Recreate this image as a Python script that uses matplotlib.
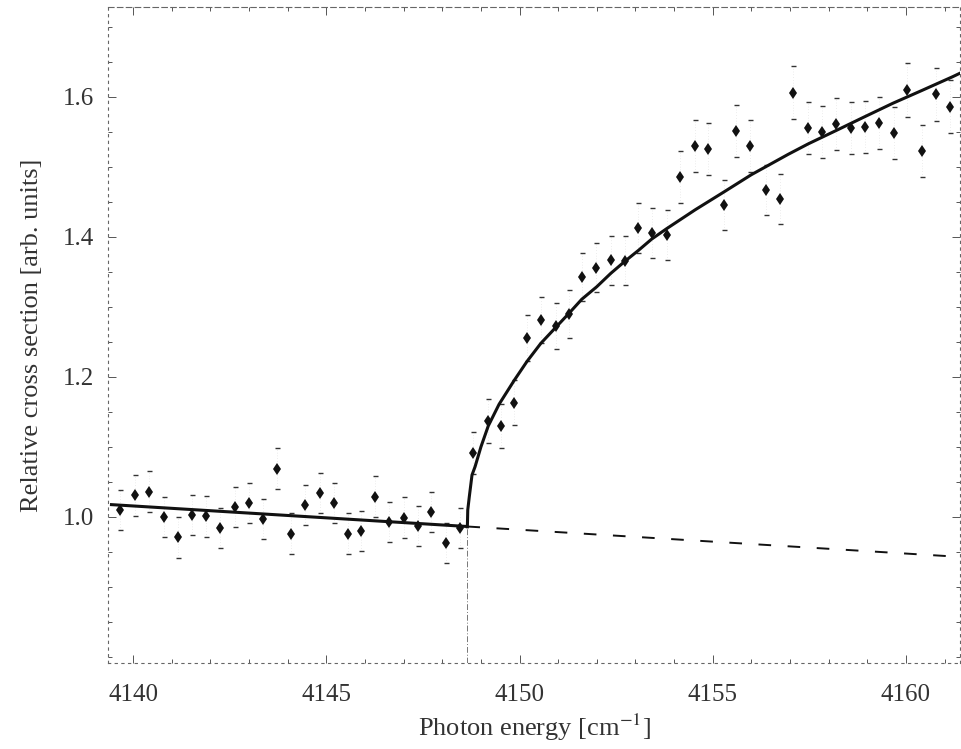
import numpy as np
import matplotlib
matplotlib.use("Agg")
import matplotlib.pyplot as plt
from matplotlib.ticker import MultipleLocator

energy = [4139.66, 4140.05, 4140.41, 4140.80, 4141.16, 4141.52, 4141.88, 4142.24,
          4142.63, 4142.99, 4143.35, 4143.72, 4144.08, 4144.46, 4144.83, 4145.19,
          4145.55, 4145.91, 4146.25, 4146.63, 4147.00, 4147.36, 4147.72, 4148.10,
          4148.46,
          4148.80, 4149.19, 4149.52, 4149.86, 4150.19, 4150.55, 4150.94, 4151.28,
          4151.61, 4151.97, 4152.36, 4152.72, 4153.06, 4153.42, 4153.81, 4154.14,
          4154.53, 4154.89, 4155.28, 4155.61, 4155.97, 4156.39, 4156.75, 4157.08,
          4157.47, 4157.83, 4158.19, 4158.58, 4158.94, 4159.30, 4159.69, 4160.02,
          4160.41, 4160.77, 4161.14]
signal = [1.010, 1.031, 1.036, 1.000, 0.971, 1.003, 1.001, 0.984,
          1.014, 1.020, 0.997, 1.069, 0.976, 1.017, 1.034, 1.020,
          0.976, 0.980, 1.029, 0.993, 0.999, 0.987, 1.007, 0.963,
          0.984,
          1.091, 1.137, 1.130, 1.163, 1.256, 1.281, 1.273, 1.290,
          1.343, 1.356, 1.367, 1.366, 1.413, 1.406, 1.403, 1.486,
          1.530, 1.526, 1.446, 1.551, 1.530, 1.467, 1.454, 1.606,
          1.556, 1.550, 1.561, 1.556, 1.557, 1.563, 1.549, 1.610,
          1.523, 1.604, 1.586]
sigma = [0.029] * 25 + [0.030, 0.031, 0.031, 0.032, 0.033, 0.033, 0.033, 0.034,
                        0.034, 0.035, 0.035, 0.035, 0.036, 0.036, 0.036, 0.037,
                        0.037, 0.037, 0.036, 0.037, 0.037, 0.036, 0.036, 0.038,
                        0.037, 0.037, 0.037, 0.037, 0.037, 0.037, 0.037, 0.038,
                        0.037, 0.038, 0.038]

# fitted background (solid below threshold, dashed above)
bg_x = [4139.40, 4148.65]
bg_y = [1.0178, 0.9864]
bg_ext_x = [4148.65, 4161.40]
bg_ext_y = [0.9864, 0.9430]

# fitted threshold curve
fit_x = [4148.65, 4148.66, 4148.70, 4148.77, 4148.85, 4149.00, 4149.19, 4149.47,
         4149.86, 4150.19, 4150.55, 4150.94, 4151.28, 4151.61, 4152.00, 4152.36,
         4152.72, 4153.08, 4153.42, 4153.81, 4154.55, 4155.28, 4156.00, 4156.95,
         4157.47, 4158.19, 4158.94, 4159.66, 4160.40, 4161.21, 4161.40]
fit_y = [0.986, 1.010, 1.029, 1.060, 1.072, 1.100, 1.130, 1.161,
         1.195, 1.222, 1.248, 1.271, 1.291, 1.311, 1.329, 1.348,
         1.365, 1.381, 1.397, 1.412, 1.439, 1.464, 1.489, 1.518,
         1.533, 1.552, 1.572, 1.591, 1.609, 1.629, 1.634]

threshold = 4148.65

plt.rcParams['font.family'] = ['Liberation Serif', 'DejaVu Serif']
plt.rcParams['mathtext.fontset'] = 'stix'

fig = plt.figure(figsize=(9.61, 7.49), dpi=100)
ax = fig.add_axes([0.1124, 0.1148, 0.8866, 0.8759])

ink = '#111111'

# faint dotted error bars with small dark caps, as in the scan
eb = ax.errorbar(energy, signal, yerr=sigma, fmt='none', ecolor='#333333',
                 elinewidth=0.4, capsize=1.8, capthick=1.0)
eb[2][0].set_linestyle((0, (1, 4)))
eb[2][0].set_color('#c8c8c8')
ax.plot(energy, signal, linestyle='none', marker='d', markersize=6,
        color=ink, markeredgewidth=0)

ax.plot(bg_x, bg_y, color=ink, lw=2.2, solid_capstyle='butt')
ax.plot(bg_ext_x, bg_ext_y, color=ink, lw=1.4, dashes=(6.5, 8.5))
ax.plot(fit_x, fit_y, color=ink, lw=2.2)
ax.plot([threshold, threshold], [0.7914, bg_y[-1]], color='#777777', lw=0.7,
        linestyle=(0, (6, 2, 1, 2)))

ax.set_xlim(4139.35, 4161.40)
ax.set_ylim(0.7914, 1.7286)
ax.set_xticks([4140, 4145, 4150, 4155, 4160])
ax.set_yticks([1.0, 1.2, 1.4, 1.6])
ax.set_yticklabels(['1.0', '1.2', '1.4', '1.6'])
ax.xaxis.set_minor_locator(MultipleLocator(1))
ax.yaxis.set_minor_locator(MultipleLocator(0.05))
ax.tick_params(which='both', direction='in', top=True, right=True,
               color='#555555', width=0.7)
ax.tick_params(which='major', length=6, labelsize=18, labelcolor='#333333', pad=10)
ax.tick_params(axis='x', which='major', pad=15)
ax.tick_params(which='minor', length=3)

for name, s in ax.spines.items():
    s.set_linewidth(0.8)
    s.set_color('#666666')
    s.set_linestyle((0, (5, 3)) if name == 'top' else (0, (2, 4)))

ax.set_xlabel(r'Photon energy [cm$^{-1}$]', fontsize=19, color='#333333', labelpad=4)
ax.set_ylabel('Relative cross section [arb. units]', fontsize=19, color='#333333',
              labelpad=14)

fig.savefig('out.png', dpi=100)
